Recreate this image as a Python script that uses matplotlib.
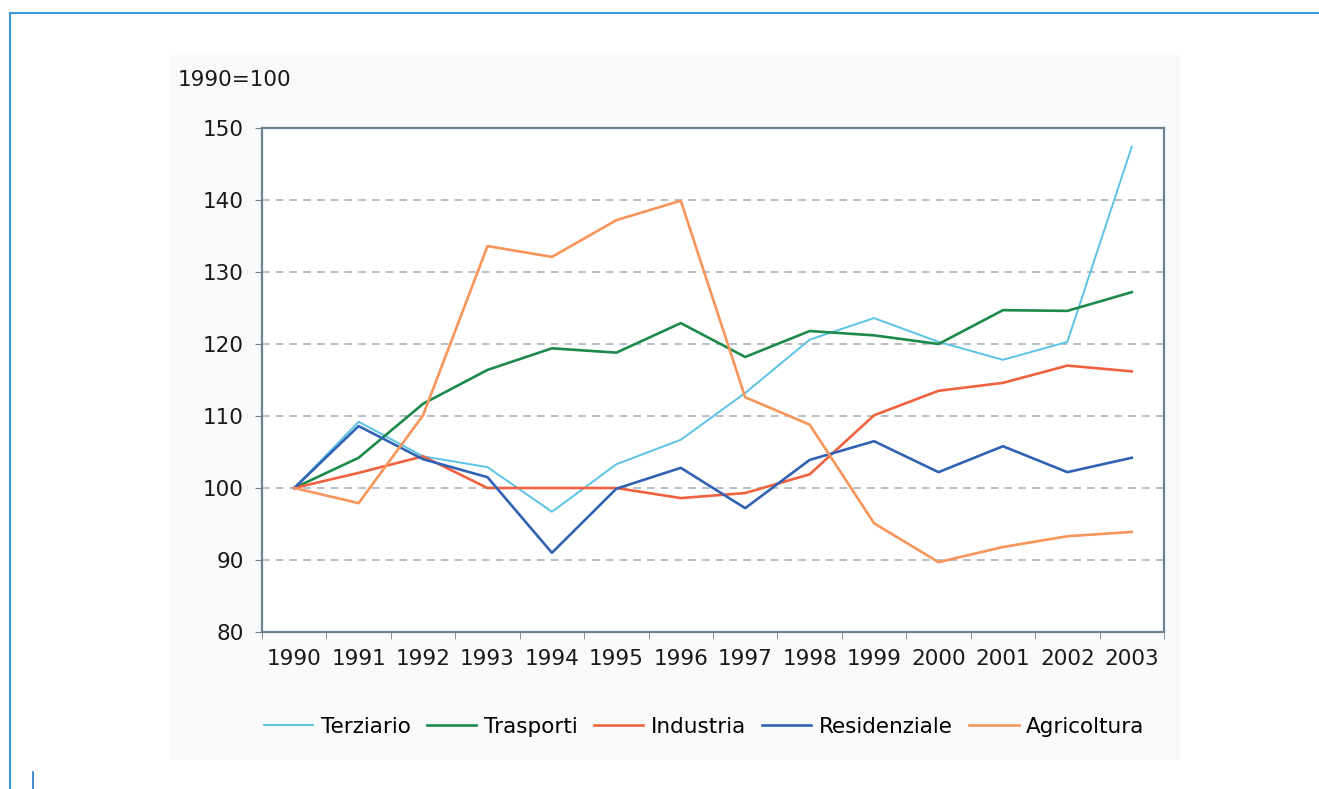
import numpy as np
import matplotlib.pyplot as plt
from matplotlib.patches import Rectangle
from matplotlib.lines import Line2D

years = ["1990", "1991", "1992", "1993", "1994", "1995", "1996",
         "1997", "1998", "1999", "2000", "2001", "2002", "2003"]

terziario = [100, 109.2, 104.4, 102.9, 96.7, 103.3, 106.7, 113.2, 120.6, 123.6, 120.3, 117.8, 120.3, 147.4]
trasporti = [100, 104.2, 111.7, 116.4, 119.4, 118.8, 122.9, 118.2, 121.8, 121.2, 120.0, 124.7, 124.6, 127.2]
industria = [100, 102.1, 104.4, 100.0, 100.0, 100.0, 98.6, 99.3, 101.9, 110.1, 113.5, 114.6, 117.0, 116.2]
residenziale = [100, 108.6, 104.0, 101.5, 91.0, 99.9, 102.8, 97.2, 103.9, 106.5, 102.2, 105.8, 102.2, 104.2]
agricoltura = [100, 97.9, 110.1, 133.6, 132.1, 137.2, 139.9, 112.6, 108.8, 95.1, 89.7, 91.8, 93.3, 93.9]

series = [
    ("Terziario", terziario, "#5cc3e4", 1.4),
    ("Trasporti", trasporti, "#1d8a4c", 1.9),
    ("Industria", industria, "#f0623f", 1.9),
    ("Residenziale", residenziale, "#3162b4", 1.9),
    ("Agricoltura", agricoltura, "#f7955a", 1.9),
]

W, H = 1319, 789
fig = plt.figure(figsize=(W / 100, H / 100), dpi=100)
fig.patch.set_facecolor("white")

# light grey panel behind the chart
fig.patches.append(Rectangle((170 / W, 1 - 760 / H), 1010 / W, 705 / H,
                             transform=fig.transFigure, facecolor="#f9fafc",
                             edgecolor="none", zorder=-5))
# blue page frame
blue = "#3d9bd9"
fig.lines.append(Line2D([10 / W, 1], [1 - 13 / H, 1 - 13 / H], transform=fig.transFigure, color=blue, lw=1.5))
fig.lines.append(Line2D([10 / W, 10 / W], [0, 1 - 13 / H], transform=fig.transFigure, color=blue, lw=1.5))
fig.lines.append(Line2D([33 / W, 33 / W], [0, 1 - 772 / H], transform=fig.transFigure, color="#1f78c8", lw=1.2))

ax = fig.add_axes([262 / W, 1 - 632 / H, 902 / W, 504 / H])
ax.set_facecolor("white")
ax.set_zorder(2)

x = np.arange(len(years))
for name, vals, col, lw in series:
    ax.plot(x, vals, color=col, lw=lw, label=name, zorder=3)

ax.set_xlim(-0.5, len(years) - 0.5)
ax.set_ylim(80, 150)
ax.set_yticks(np.arange(80, 151, 10))
ax.set_xticks(x)
ax.set_xticklabels(years)
ax.set_xticks(np.arange(-0.5, len(years)), minor=True)
ax.tick_params(axis="x", which="major", length=0, pad=12, labelsize=15.5, colors="#1a1a1a")
ax.tick_params(axis="x", which="minor", length=5, color="#6e8290", direction="out")
ax.tick_params(axis="y", length=5, color="#6e8290", pad=8, labelsize=15.5, labelcolor="#1a1a1a")

ax.yaxis.grid(True, linestyle=(0, (5, 4)), color="#a2adb5", lw=1.1)
ax.set_axisbelow(True)
for s in ax.spines.values():
    s.set_color("#6e8290")
    s.set_linewidth(1.6)

fig.text(178 / W, 1 - 80 / H, "1990=100", fontsize=15.5, color="#1a1a1a", va="center", ha="left")

ax.legend(loc="center", bbox_to_anchor=(704 / W, 1 - 727 / H), bbox_transform=fig.transFigure,
          ncol=5, frameon=False, fontsize=15.5, handlelength=2.3, handletextpad=0.35,
          columnspacing=0.75, borderpad=0)

fig.savefig("out.png", dpi=100)
